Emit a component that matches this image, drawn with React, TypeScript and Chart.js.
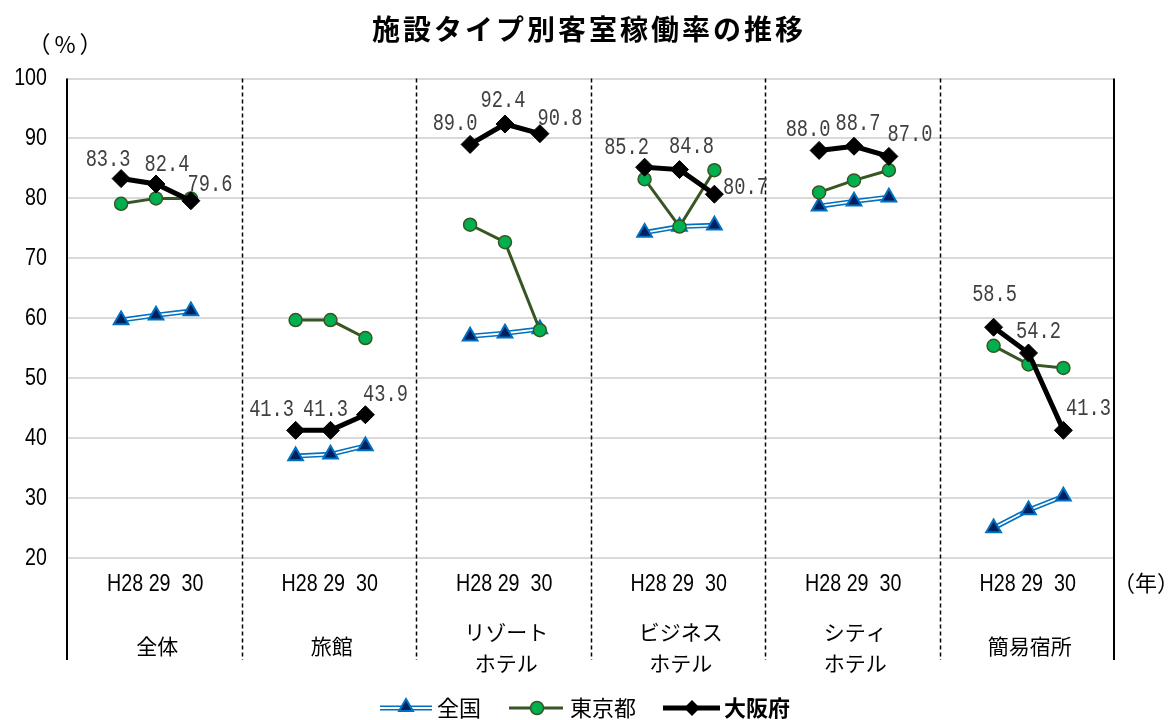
import React, { useEffect, useRef } from "react";
import { Chart, registerables } from "chart.js";

Chart.register(...registerables);

// ---- data ----
const title = "施設タイプ別客室稼働率の推移";
const categories: string[][] = [["全体"], ["旅館"], ["リゾート", "ホテル"], ["ビジネス", "ホテル"], ["シティ", "ホテル"], ["簡易宿所"]];
const years = ["H28", "29", "30"];
const seriesNames = ["全国", "東京都", "大阪府"];
const zenkoku = [59.7, 60.5, 61.2, 37.0, 37.3, 38.7, 57.0, 57.5, 58.2, 74.3, 75.3, 75.5, 78.7, 79.5, 80.2, 25.0, 28.0, 30.3];
const tokyo = [79.1, 80.0, 80.0, 59.7, 59.7, 56.7, 75.6, 72.7, 58.0, 83.2, 75.3, 84.7, 81.0, 83.0, 84.7, 55.4, 52.3, 51.7];
const osaka = [83.3, 82.4, 79.6, 41.3, 41.3, 43.9, 89.0, 92.4, 90.8, 85.2, 84.8, 80.7, 88.0, 88.7, 87.0, 58.5, 54.2, 41.3];
const yTicks = { min: 20, max: 100, step: 10 };
const yUnit = "（%）";
const xUnit = "（年）";

// ---- styling (label offsets in px, relative to the point) ----
const osakaLabelOffsets: number[][] = [
  [-13, -19], [11, -19], [19, -16],
  [-24, -21], [-5, -21], [20, -20],
  [-15, -21], [-2, -23], [20, -15],
  [-18, -20], [12, -23], [31, -7],
  [-11, -21], [4, -23], [21, -22],
  [1, -33], [10, -21], [25, -22],
];

const SANS = '"Liberation Sans", Arial, sans-serif';
const CJK = '"Noto Sans CJK JP", sans-serif';
const MONO = '"Liberation Mono", "DejaVu Sans Mono", monospace';

const SLOTS = 5;
const FIRST = 1.55;

function toPoints(values: number[]) {
  const pts: { x: number; y: number | null }[] = [];
  categories.forEach((_, g) => {
    years.forEach((_, i) => pts.push({ x: g * SLOTS + FIRST + i, y: values[g * years.length + i] }));
    pts.push({ x: g * SLOTS + SLOTS, y: null });
  });
  return pts;
}

function tri(ctx: CanvasRenderingContext2D, x: number, y: number, r: number) {
  ctx.beginPath();
  ctx.moveTo(x, y - r);
  ctx.lineTo(x + r * 0.866, y + r * 0.5);
  ctx.lineTo(x - r * 0.866, y + r * 0.5);
  ctx.closePath();
}
function diamond(ctx: CanvasRenderingContext2D, x: number, y: number, r: number) {
  ctx.beginPath();
  ctx.moveTo(x - r, y);
  ctx.lineTo(x, y - r);
  ctx.lineTo(x + r, y);
  ctx.lineTo(x, y + r);
  ctx.closePath();
}
// condensed text (horizontal scale) drawn as real canvas text
function narrowText(ctx: CanvasRenderingContext2D, text: string, x: number, y: number, font: string, align: CanvasTextAlign, sx: number) {
  ctx.save();
  ctx.translate(x, y);
  ctx.scale(sx, 1);
  ctx.font = font;
  ctx.textAlign = align;
  ctx.textBaseline = "middle";
  ctx.fillText(text, 0, 0);
  ctx.restore();
}

const decorPlugin = {
  id: "decor",
  beforeDatasetsDraw(chart: any) {
    const ctx: CanvasRenderingContext2D = chart.ctx;
    const xs = chart.scales.x;
    const area = chart.chartArea;
    const bottom = 660;
    ctx.save();
    ctx.strokeStyle = "#000";
    ctx.lineWidth = 1.5;
    ctx.setLineDash([4, 3]);
    for (let g = 1; g < categories.length; g++) {
      const px = Math.round(xs.getPixelForValue(g * SLOTS)) + 0.5;
      ctx.beginPath();
      ctx.moveTo(px, area.top);
      ctx.lineTo(px, bottom);
      ctx.stroke();
    }
    ctx.setLineDash([]);
    ctx.lineWidth = 2;
    [0, categories.length * SLOTS].forEach((v) => {
      const px = Math.round(xs.getPixelForValue(v));
      ctx.beginPath();
      ctx.moveTo(px, area.top);
      ctx.lineTo(px, bottom);
      ctx.stroke();
    });
    ctx.restore();
  },
  afterDraw(chart: any) {
    const ctx: CanvasRenderingContext2D = chart.ctx;
    const xs = chart.scales.x;
    const ys = chart.scales.y;
    ctx.save();
    // y tick labels (condensed)
    ctx.fillStyle = "#000";
    ys.ticks.forEach((t: any) => {
      narrowText(ctx, String(t.value), 47, ys.getPixelForValue(t.value), `24px ${SANS}`, "right", 0.82);
    });
    // title
    ctx.textAlign = "center";
    ctx.textBaseline = "middle";
    ctx.font = `bold 28px ${CJK}`;
    (ctx as any).letterSpacing = "3px";
    ctx.fillText(title, 589, 29);
    // unit labels
    ctx.font = `23px ${CJK}`;
    (ctx as any).letterSpacing = "4px";
    ctx.fillText(yUnit, 67, 44);
    (ctx as any).letterSpacing = "0px";
    ctx.font = `22px ${CJK}`;
    ctx.fillText(xUnit, 1146, 583);
    // group labels
    categories.forEach((lines, g) => {
      const cx = xs.getPixelForValue(g * SLOTS + SLOTS / 2) + 1;
      ctx.fillStyle = "#000";
      narrowText(ctx, `${years[0]} ${years[1]}  ${years[2]}`, cx, 584, `24px ${SANS}`, "center", 0.82);
      ctx.font = `21px ${CJK}`;
      ctx.textAlign = "center";
      ctx.textBaseline = "middle";
      if (lines.length === 1) {
        ctx.fillText(lines[0], cx + 2, 646);
      } else {
        ctx.fillText(lines[0], cx + 2, 632);
        ctx.fillText(lines[1], cx + 2, 663);
      }
    });
    // data labels for 大阪府
    const meta = chart.getDatasetMeta(4);
    ctx.fillStyle = "#404040";
    let k = 0;
    meta.data.forEach((el: any, idx: number) => {
      const raw = chart.data.datasets[4].data[idx];
      if (raw.y === null || raw.y === undefined) return;
      const off = osakaLabelOffsets[k] || [0, -20];
      narrowText(ctx, osaka[k].toFixed(1), el.x + off[0], el.y + off[1], `24px ${MONO}`, "center", 0.78);
      k++;
    });
    // legend
    const ly = 708;
    const ty = 708;
    ctx.textAlign = "left";
    ctx.textBaseline = "middle";
    ctx.lineCap = "butt";
    ctx.strokeStyle = "#0070C0";
    ctx.lineWidth = 5;
    ctx.beginPath(); ctx.moveTo(380, ly); ctx.lineTo(432, ly); ctx.stroke();
    ctx.strokeStyle = "#fff";
    ctx.lineWidth = 1.8;
    ctx.beginPath(); ctx.moveTo(380, ly); ctx.lineTo(432, ly); ctx.stroke();
    tri(ctx, 406, ly - 1, 8);
    ctx.fillStyle = "#002060"; ctx.fill();
    ctx.strokeStyle = "#0070C0"; ctx.lineWidth = 2; ctx.stroke();
    ctx.fillStyle = "#000";
    ctx.font = `22px ${CJK}`;
    ctx.fillText(seriesNames[0], 437, ty);
    ctx.strokeStyle = "#375623";
    ctx.lineWidth = 3;
    ctx.beginPath(); ctx.moveTo(509, ly); ctx.lineTo(563, ly); ctx.stroke();
    ctx.beginPath(); ctx.arc(537, ly, 6.5, 0, Math.PI * 2);
    ctx.fillStyle = "#00B050"; ctx.fill();
    ctx.lineWidth = 1.5; ctx.stroke();
    ctx.fillStyle = "#000";
    ctx.fillText(seriesNames[1], 570, ty);
    ctx.strokeStyle = "#000";
    ctx.lineWidth = 5;
    ctx.beginPath(); ctx.moveTo(663, ly); ctx.lineTo(720, ly); ctx.stroke();
    diamond(ctx, 692, ly, 8);
    ctx.fillStyle = "#000"; ctx.fill();
    ctx.font = `bold 22px ${CJK}`;
    ctx.fillText(seriesNames[2], 724, ty);
    ctx.restore();
  },
};

export default function App() {
  const ref = useRef<HTMLCanvasElement | null>(null);
  useEffect(() => {
    if (!ref.current) return;
    const chart = new Chart(ref.current, {
      type: "line",
      data: {
        datasets: [
          {
            label: seriesNames[0] + "_outer",
            data: toPoints(zenkoku) as any,
            borderColor: "#0070C0",
            borderWidth: 5,
            pointRadius: 0,
            order: 6,
          },
          {
            label: seriesNames[0] + "_inner",
            data: toPoints(zenkoku) as any,
            borderColor: "#ffffff",
            borderWidth: 1.8,
            pointRadius: 0,
            order: 5,
          },
          {
            label: seriesNames[0],
            data: toPoints(zenkoku) as any,
            showLine: false,
            pointStyle: "triangle",
            pointRadius: 8.5,
            pointBackgroundColor: "#002060",
            pointBorderColor: "#0070C0",
            pointBorderWidth: 2,
            order: 4,
          },
          {
            label: seriesNames[1],
            data: toPoints(tokyo) as any,
            borderColor: "#375623",
            borderWidth: 3,
            pointStyle: "circle",
            pointRadius: 6.5,
            pointBackgroundColor: "#00B050",
            pointBorderColor: "#375623",
            pointBorderWidth: 1.5,
            order: 2,
          },
          {
            label: seriesNames[2],
            data: toPoints(osaka) as any,
            borderColor: "#000000",
            borderWidth: 5,
            pointStyle: "rectRot",
            pointRadius: 9,
            pointBackgroundColor: "#000000",
            pointBorderColor: "#000000",
            pointBorderWidth: 1,
            order: 1,
          },
        ],
      },
      options: {
        animation: false,
        responsive: false,
        maintainAspectRatio: false,
        spanGaps: false,
        layout: { padding: { left: 0, top: 78.5, right: 1168 - 1114, bottom: 720 - 558 } },
        elements: { line: { tension: 0 } },
        plugins: { legend: { display: false }, tooltip: { enabled: false }, title: { display: false } },
        scales: {
          x: { type: "linear", min: 0, max: categories.length * SLOTS, display: false },
          y: {
            min: yTicks.min,
            max: yTicks.max,
            afterFit: (s: any) => { s.width = 67; },
            ticks: { stepSize: yTicks.step, display: false },
            grid: { color: "#d9d9d9", lineWidth: 2, drawTicks: false },
            border: { display: false },
          },
        },
      },
      plugins: [decorPlugin],
    });
    return () => chart.destroy();
  }, []);
  return (
    <div style={{ position: "fixed", left: 0, top: 0, width: 1168, height: 720, background: "#fff" }}>
      <canvas ref={ref} width={1168} height={720} style={{ width: 1168, height: 720, display: "block" }} />
    </div>
  );
}
